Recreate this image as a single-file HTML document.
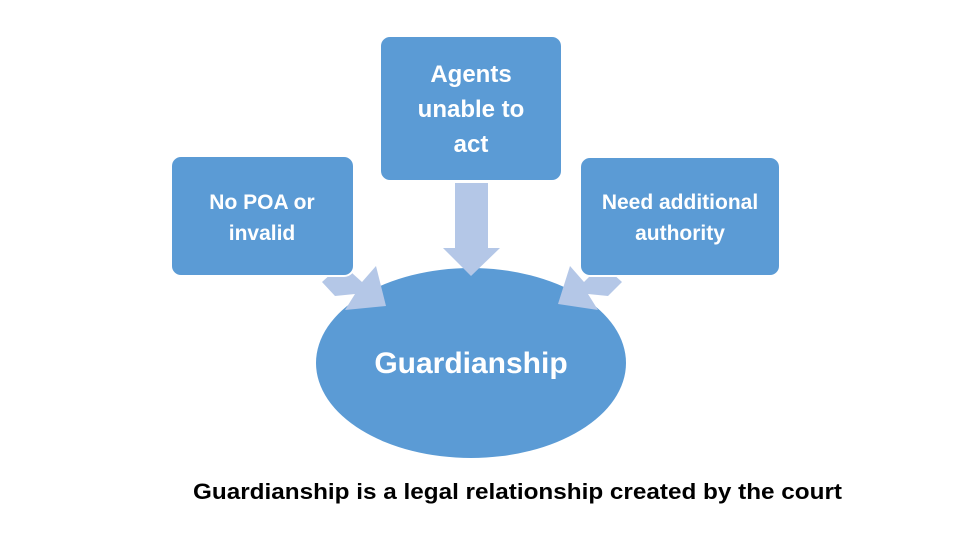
<!DOCTYPE html>
<html><head><meta charset="utf-8"><style>
html,body{margin:0;padding:0;background:#fff;}
svg{display:block;}
text{font-family:"Liberation Sans",Arial,sans-serif;font-weight:bold;}
</style></head><body>
<svg width="960" height="540" viewBox="0 0 960 540" xmlns="http://www.w3.org/2000/svg">
<rect width="960" height="540" fill="#fff"/>
<!-- ellipse -->
<ellipse cx="471" cy="363" rx="155" ry="95" fill="#5b9bd5"/>
<!-- center arrow -->
<polygon points="455,183 488,183 488,248 500,248 471,276 443,248 455,248" fill="#b4c7e7"/>
<!-- left arrow -->
<polygon points="322,282 342,264 362,282 376,266 386,306 345,310 355,294 335,296" fill="#b4c7e7"/>
<!-- right arrow -->
<polygon points="622,282 602,264 584,282 570,266 558,304 598,310 588,294 608,296" fill="#b4c7e7"/>
<!-- boxes -->
<rect x="171" y="156" width="183" height="120" rx="10" fill="#5b9bd5" stroke="#fff" stroke-width="2"/>
<rect x="380" y="36" width="182" height="145" rx="10" fill="#5b9bd5" stroke="#fff" stroke-width="2"/>
<rect x="580" y="157" width="200" height="119" rx="10" fill="#5b9bd5" stroke="#fff" stroke-width="2"/>
<g fill="#fff" text-anchor="middle">
<text x="471" y="82" font-size="24">Agents</text>
<text x="471" y="117" font-size="24">unable to</text>
<text x="471" y="152" font-size="24">act</text>
<text x="262" y="209" font-size="21">No POA or</text>
<text x="262" y="240" font-size="21">invalid</text>
<text x="680" y="209" font-size="21">Need additional</text>
<text x="680" y="240" font-size="21">authority</text>
<text x="471" y="373" font-size="30">Guardianship</text>
</g>
<text x="193" y="499" font-size="22" fill="#000" textLength="649" lengthAdjust="spacingAndGlyphs">Guardianship is a legal relationship created by the court</text>
</svg>
</body></html>
